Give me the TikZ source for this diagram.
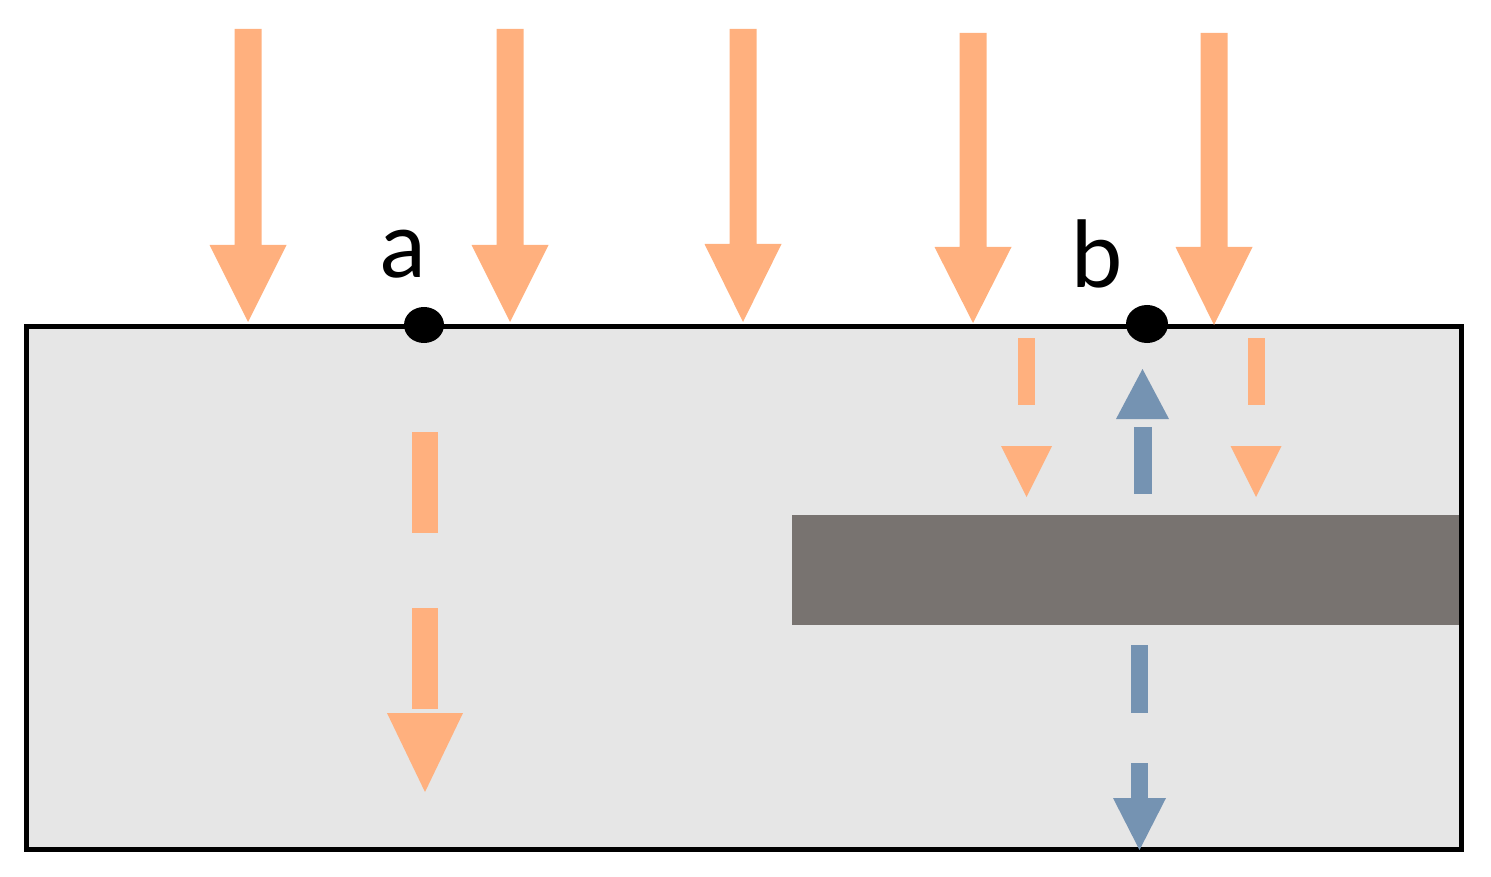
\documentclass[tikz,border=0pt]{standalone}
\usepackage{fontspec}
\setmainfont{Lato}
\usetikzlibrary{shapes.geometric}
\definecolor{orangeA}{HTML}{FFB07E}
\definecolor{blueA}{HTML}{7593B2}
\definecolor{panel}{HTML}{E6E6E6}
\definecolor{barcol}{HTML}{787370}
% down block arrow: x, shaft top, head top, tip, shaft half width, head half width
\newcommand{\dnarrow}[7]{\fill[#7] ({#1-#5},#2) -- ({#1+#5},#2) -- ({#1+#5},#3) -- ({#1+#6},#3) -- (#1,#4) -- ({#1-#6},#3) -- ({#1-#5},#3) -- cycle;}
% segment: x, y1, y2, half width, colour
\newcommand{\segm}[5]{\fill[#5] ({#1-#4},#2) rectangle ({#1+#4},#3);}
% triangle head: x, base y, tip y, half width, colour
\newcommand{\headtri}[5]{\fill[#5] ({#1-#4},#2) -- ({#1+#4},#2) -- (#1,#3) -- cycle;}
\tikzset{
  dot/.style={ellipse, fill=black, inner sep=0pt},
  lbl/.style={anchor=base, inner sep=0pt, font=\fontsize{92}{92}\selectfont},
}
\begin{document}
\begin{tikzpicture}[x=1pt,y=-1pt]
\useasboundingbox (0,0) rectangle (1491,877);
% panel
\fill[panel] (26,326) rectangle (1461,849);
\fill[barcol] (792,515) rectangle (1461,625);
\draw[line width=5pt] (26,326) rectangle (1461,849);
% top arrows
\dnarrow{248}{29}{245}{322}{13.5}{38.5}{orangeA}
\dnarrow{510}{29}{245}{322}{13.5}{38.5}{orangeA}
\dnarrow{743}{29}{244}{322}{13.5}{38.5}{orangeA}
\dnarrow{973}{33}{247}{323}{13.5}{38.5}{orangeA}
\dnarrow{1214}{33}{247}{325}{13.5}{38.5}{orangeA}
% dashed arrow under a
\segm{425}{432}{533}{13}{orangeA}
\segm{425}{608}{709}{13}{orangeA}
\headtri{425}{713}{792}{38}{orangeA}
% small orange dashed arrows near b
\segm{1026.5}{338}{405}{8.5}{orangeA}
\headtri{1026.5}{446}{497}{25.5}{orangeA}
\segm{1256}{338}{405}{8.5}{orangeA}
\headtri{1256}{446}{497}{25.5}{orangeA}
% blue upward arrow
\headtri{1142.5}{419}{369}{26.5}{blueA}
\segm{1143}{427}{494}{9}{blueA}
% blue downward dashed arrow
\segm{1139.5}{645}{713}{8.5}{blueA}
\segm{1139.5}{763}{799}{8.5}{blueA}
\headtri{1139.5}{798}{850}{26.5}{blueA}
% points and labels
\node[dot, minimum width=40pt, minimum height=36pt] (a) at (424,325) {};
\node[dot, minimum width=42pt, minimum height=38pt] (b) at (1147,324) {};
\node[lbl] (la) at (403,278) {a};
\node[lbl] (lb) at (1097,288) {b};
\end{tikzpicture}
\end{document}
